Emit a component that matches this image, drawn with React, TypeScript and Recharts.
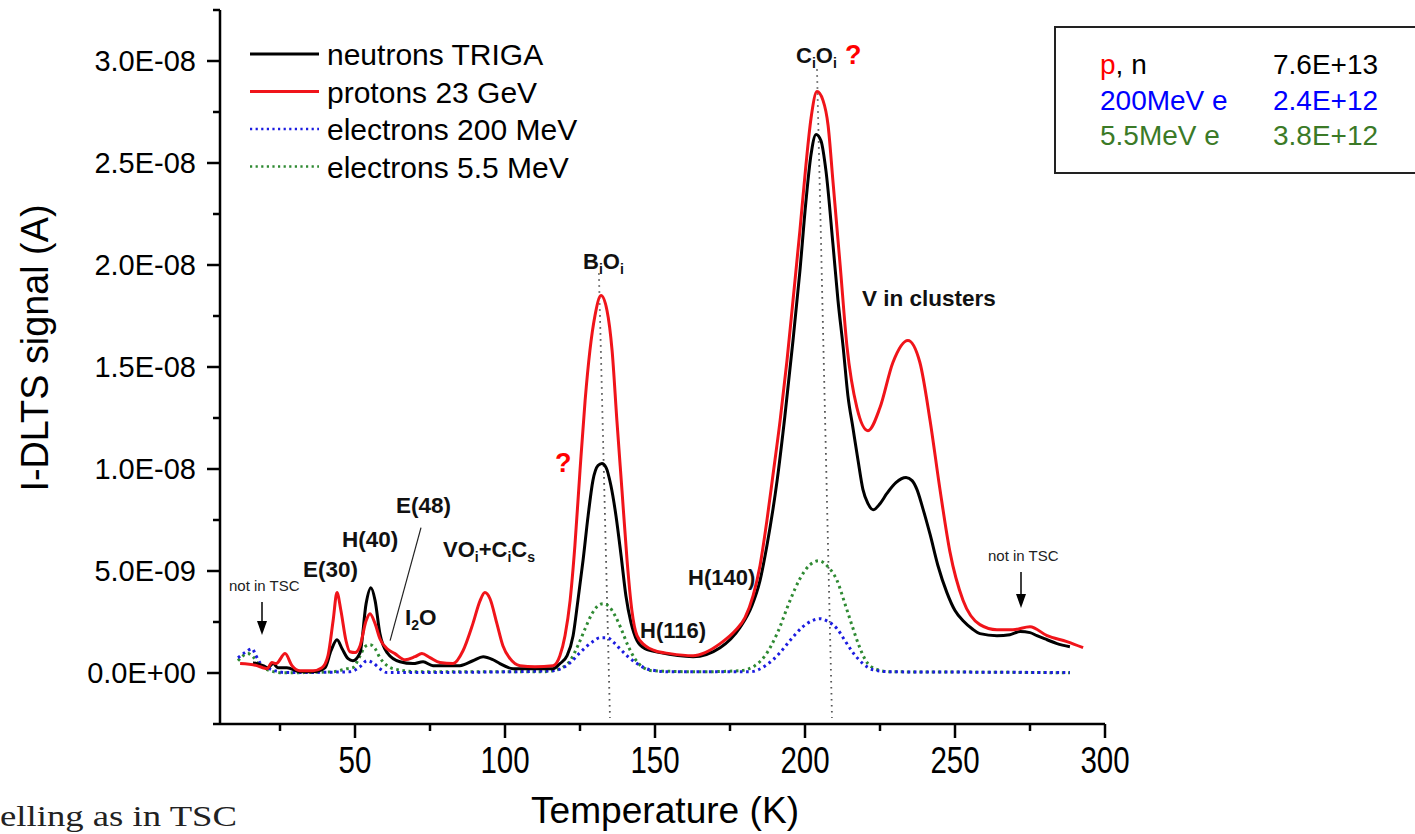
import React from 'react';
import { LineChart, Line, XAxis, YAxis, ReferenceLine } from 'recharts';

// I-DLTS spectra: temperature (K) and signal in nA for each irradiation
const neutronT = [16, 19.3, 21, 22.7, 24.3, 27.3, 31.7, 36, 40, 42, 44, 45.7, 47.7, 49.3, 51.7, 53.7, 55.3, 56.7, 58.3, 60.7, 65, 69.3, 72.7, 76, 85, 89.3, 92.7, 96, 98.3, 102.7, 116, 118.3, 120.7, 122.7, 124.3, 126, 127.7, 129.3, 131, 132.3, 133.7, 135.3, 137, 138.7, 140.3, 142, 144, 146.7, 151.7, 162.7, 171.7, 178.3, 182.3, 185, 187.3, 190.7, 193.3, 196, 198.3, 200.3, 202, 203.7, 205.3, 207, 209.3, 211, 212.7, 214.3, 216, 217.7, 219.3, 221, 222.7, 225, 227.3, 230.3, 233.7, 235.7, 237.3, 239.3, 241.7, 244.3, 247.3, 250, 252.7, 255.7, 258.3, 264, 268.3, 271.7, 275, 277.3, 280.7, 284, 288.3];
const neutronI = [0.51, 0.36, 0.26, 0.46, 0.26, 0.26, 0.06, 0.06, 0.26, 1.09, 1.63, 1.19, 0.7, 0.6, 1.0, 3.4, 4.18, 3.55, 1.93, 1.0, 0.55, 0.46, 0.55, 0.36, 0.36, 0.6, 0.8, 0.65, 0.46, 0.21, 0.21, 0.46, 0.85, 1.83, 3.55, 5.5, 7.7, 9.43, 10.17, 10.27, 10.07, 9.19, 7.7, 5.75, 3.79, 2.47, 1.59, 1.19, 1.0, 0.8, 1.24, 2.22, 3.3, 4.53, 6.24, 9.43, 12.6, 16.3, 19.7, 23.1, 25.4, 26.4, 26.1, 24.6, 21.05, 18.26, 16.0, 13.6, 12.0, 10.4, 9.0, 8.3, 8.0, 8.3, 8.8, 9.33, 9.58, 9.43, 9.0, 8.06, 6.79, 5.27, 3.94, 3.06, 2.56, 2.17, 1.93, 1.83, 1.88, 2.03, 1.98, 1.83, 1.63, 1.44, 1.29];

const protonT = [11.7, 17.3, 19.3, 20.7, 22.3, 23.7, 26.7, 29, 31.7, 36, 39, 41, 42.7, 44, 45.3, 47, 48.3, 50, 51.7, 53.7, 55, 56.7, 58.3, 60.7, 63.3, 66.7, 70, 72.3, 75, 78.3, 82.7, 86, 89.3, 91.7, 93.3, 95, 97.3, 99.3, 101.7, 105, 110, 116, 118.3, 120, 121.7, 123.3, 125, 126.7, 128.3, 130, 132, 134, 135.7, 137.3, 139, 140.7, 142.3, 144, 146.7, 150, 155, 162.7, 166.7, 171.7, 176.7, 180, 182.7, 185, 187.3, 189.3, 191.7, 194, 196, 198.3, 200.3, 202, 204, 206, 207.7, 209.3, 211.7, 214, 217.3, 221, 225, 229.3, 234.3, 238.3, 241.7, 245, 248.3, 252.7, 258.3, 264, 269.3, 275, 280.7, 287.3, 292.7];
const protonI = [0.46, 0.36, 0.26, 0.21, 0.51, 0.46, 0.95, 0.36, 0.11, 0.11, 0.26, 0.85, 2.56, 3.94, 3.06, 1.58, 1.04, 1.0, 1.34, 2.56, 2.91, 2.42, 1.68, 1.19, 0.95, 0.65, 0.8, 0.95, 0.75, 0.51, 0.46, 1.09, 2.42, 3.55, 3.94, 3.64, 2.42, 1.34, 0.7, 0.36, 0.31, 0.36, 0.85, 1.83, 3.55, 6.24, 9.92, 13.35, 15.8, 17.52, 18.5, 17.77, 15.8, 12.37, 8.94, 5.5, 3.06, 1.83, 1.34, 1.09, 0.95, 0.85, 1.0, 1.44, 2.07, 2.71, 3.79, 5.26, 7.47, 9.68, 12.37, 15.32, 18.26, 21.69, 24.88, 27.18, 28.5, 28.07, 26.84, 24.14, 20.02, 16.0, 13.01, 11.88, 13.01, 15.22, 16.3, 15.22, 12.37, 8.99, 5.95, 3.55, 2.37, 2.12, 2.12, 2.27, 1.83, 1.54, 1.24];

const e200T = [11, 13.3, 15.7, 17, 18.3, 20.7, 27.3, 48.3, 51.7, 54, 56, 58.3, 60.7, 90, 116, 121.7, 125, 129.3, 131.7, 134, 136.3, 138.3, 141, 144, 148.3, 155, 181.7, 187.3, 191.7, 195, 199.3, 202.3, 205, 207.7, 210.7, 213.3, 216, 219, 222.7, 228.3, 260, 288.3];
const e200I = [0.75, 1.0, 1.19, 0.85, 0.51, 0.26, 0.02, 0.06, 0.31, 0.6, 0.5, 0.21, 0.02, 0.04, 0.11, 0.5, 1.0, 1.54, 1.73, 1.73, 1.49, 1.19, 0.8, 0.46, 0.16, 0.06, 0.06, 0.41, 1.0, 1.59, 2.27, 2.56, 2.66, 2.52, 2.17, 1.59, 1.0, 0.5, 0.16, 0.06, 0.04, 0.02];

const e55T = [11, 14.3, 16, 17.7, 20, 26, 42.7, 47.3, 49.3, 51.7, 53.3, 55, 56.7, 58.3, 60.7, 62.7, 71.7, 111.7, 116, 118.3, 121.7, 124.3, 126.7, 129, 131, 132.7, 134.7, 136.7, 138.7, 141, 143.3, 145.7, 149.3, 165, 178.3, 183.3, 186.7, 190.7, 195, 198.3, 201.7, 204.7, 207.7, 210.7, 213.3, 215.7, 218, 220.3, 223.3, 228.3, 260, 288.3];
const e55I = [0.6, 0.95, 0.8, 0.46, 0.21, 0.01, 0.06, 0.21, 0.26, 0.85, 1.29, 1.39, 1.19, 0.75, 0.36, 0.21, 0.06, 0.06, 0.11, 0.21, 0.6, 1.34, 2.17, 2.91, 3.3, 3.4, 3.25, 2.81, 2.17, 1.34, 0.7, 0.31, 0.11, 0.06, 0.11, 0.36, 0.85, 1.93, 3.55, 4.62, 5.31, 5.5, 5.2, 4.53, 3.4, 2.32, 1.34, 0.6, 0.21, 0.06, 0.04, 0.01];

// Axis ticks (temperature in K, signal in nA)
const xTicks = [25, 50, 75, 100, 125, 150, 175, 200, 225, 250, 275, 300];
const xMajor = [50, 100, 150, 200, 250, 300];
const yTicks = [-2.5, 0, 2.5, 5, 7.5, 10, 12.5, 15, 17.5, 20, 22.5, 25, 27.5, 30, 32.5];
const yMajor = [0, 5, 10, 15, 20, 25, 30];

// Peak markers: [T top, I top, T bottom, I bottom]
const biOiMarker = [131.3, 19.6, 135, -2.2];
const ciOiMarker = [204, 29.6, 209, -2.2];
const e48Leader = [72, 7.13, 61.7, 1.59];

// Fluence table
const fluenceLabels = ['p, n', '200MeV e', '5.5MeV e'];
const fluenceValues = ['7.6E+13', '2.4E+12', '3.8E+12'];

const RED = '#f0141a';
const BLUE = '#1c1ce0';
const GREEN = '#2f8a33';
const GREEN_TEXT = '#3b7a27';

const toRows = (t: number[], v: number[]) => t.map((T, i) => ({ T, I: v[i] }));

const series = [
  { name: 'electrons 5.5 MeV', data: toRows(e55T, e55I), color: GREEN, dash: '2.6 3.6', width: 3 },
  { name: 'electrons 200 MeV', data: toRows(e200T, e200I), color: BLUE, dash: '2.6 3.6', width: 3 },
  { name: 'neutrons TRIGA', data: toRows(neutronT, neutronI), color: '#000', dash: undefined, width: 3 },
  { name: 'protons 23 GeV', data: toRows(protonT, protonI), color: RED, dash: undefined, width: 3 },
];
const legendOrder = ['neutrons TRIGA', 'protons 23 GeV', 'electrons 200 MeV', 'electrons 5.5 MeV'];

const SANS = 'Liberation Sans, Arial, sans-serif';

const fmtAmp = (nA: number) => {
  if (nA === 0) return '0.0E+00';
  const a = nA * 1e-9;
  const e = Math.floor(Math.log10(Math.abs(a)) + 1e-9);
  const m = a / Math.pow(10, e);
  return `${m.toFixed(1)}E${e < 0 ? '-' : '+'}${String(Math.abs(e)).padStart(2, '0')}`;
};

const YTick = (props: any) => {
  const { x, y, payload } = props;
  const major = yMajor.includes(payload.value);
  return (
    <g>
      <line x1={x - (major ? 13 : 7)} x2={x} y1={y} y2={y} stroke="#000" strokeWidth={2.5} />
      {major && (
        <text x={x - 24} y={y + 10} textAnchor="end" fontSize={29} fontFamily={SANS} fill="#000">
          {fmtAmp(payload.value)}
        </text>
      )}
    </g>
  );
};

const XTick = (props: any) => {
  const { x, y, payload } = props;
  const major = xMajor.includes(payload.value);
  const label = String(payload.value);
  return (
    <g>
      <line x1={x} x2={x} y1={y} y2={y + (major ? 14 : 7)} stroke="#000" strokeWidth={2.5} />
      {major && (
        <text x={x} y={y + 49} textAnchor="middle" fontSize={36} fontFamily={SANS} fill="#000"
          textLength={label.length * 0.456 * 36} lengthAdjust="spacingAndGlyphs">
          {label}
        </text>
      )}
    </g>
  );
};

const bold = { fontFamily: SANS, fontWeight: 700, fill: '#111' } as const;

export default function App() {
  return (
    <div style={{ position: 'absolute', left: 0, top: 0, width: 1415, height: 834, overflow: 'hidden', background: '#fff' }}>
      <LineChart width={1415} height={834} margin={{ top: 10, right: 310, bottom: 0, left: 0 }}>
        <XAxis dataKey="T" type="number" domain={[5, 300]} ticks={xTicks} allowDataOverflow
          height={110} tickLine={false} tickSize={0} tickMargin={0} interval={0}
          axisLine={{ stroke: '#000', strokeWidth: 2.5 }} tick={<XTick />} />
        <YAxis type="number" domain={[-2.5, 32.5]} ticks={yTicks} allowDataOverflow
          width={220} tickLine={false} tickSize={0} tickMargin={0} interval={0}
          axisLine={{ stroke: '#000', strokeWidth: 2.5 }} tick={<YTick />} />
        <ReferenceLine segment={[{ x: biOiMarker[0], y: biOiMarker[1] }, { x: biOiMarker[2], y: biOiMarker[3] }]}
          stroke="#555" strokeWidth={1.8} strokeDasharray="1.6 4.4" ifOverflow="visible" />
        <ReferenceLine segment={[{ x: ciOiMarker[0], y: ciOiMarker[1] }, { x: ciOiMarker[2], y: ciOiMarker[3] }]}
          stroke="#555" strokeWidth={1.8} strokeDasharray="1.6 4.4" ifOverflow="visible" />
        <ReferenceLine segment={[{ x: e48Leader[0], y: e48Leader[1] }, { x: e48Leader[2], y: e48Leader[3] }]}
          stroke="#222" strokeWidth={1.2} ifOverflow="visible" />
        {series.map((s) => (
          <Line key={s.name} data={s.data} dataKey="I" name={s.name} type="monotone" stroke={s.color}
            strokeWidth={s.width} strokeDasharray={s.dash} dot={false} activeDot={false} isAnimationActive={false} />
        ))}
      </LineChart>

      <svg width={1415} height={834} style={{ position: 'absolute', left: 0, top: 0, pointerEvents: 'none' }}>
        {/* axis titles */}
        <text transform="translate(48,348) rotate(-90)" textAnchor="middle" fontSize={38} fontFamily={SANS}
          textLength={287} lengthAdjust="spacingAndGlyphs" fill="#000">I-DLTS signal (A)</text>
        <text x={665} y={823} textAnchor="middle" fontSize={37} fontFamily={SANS}
          textLength={268} lengthAdjust="spacingAndGlyphs" fill="#000">Temperature (K)</text>

        {/* legend */}
        {legendOrder.map((name, i) => {
          const s = series.find((q) => q.name === name)!;
          const cy = 54 + i * 37.5;
          return (
            <g key={name}>
              <line x1={250} x2={319} y1={cy} y2={cy} stroke={s.color} strokeWidth={s.dash ? 2.6 : 3}
                strokeDasharray={s.dash ? '2.2 3.4' : undefined} />
              <text x={327} y={cy + 11} fontSize={30} fontFamily={SANS} fill="#000">{name}</text>
            </g>
          );
        })}

        {/* fluence table */}
        <rect x={1055} y={27} width={380} height={146} fill="#fff" stroke="#222" strokeWidth={2} />
        {fluenceLabels.map((lab, i) => {
          const y = 74 + i * 35.5;
          const col = i === 0 ? '#000' : i === 1 ? '#0000ff' : GREEN_TEXT;
          return (
            <g key={lab} fontSize={28} fontFamily={SANS}>
              <text x={1100} y={y} fill={col}>
                {i === 0 ? (<><tspan fill="#ff0000">p</tspan><tspan>, n</tspan></>) : lab}
              </text>
              <text x={1273} y={y} fill={col}>{fluenceValues[i]}</text>
            </g>
          );
        })}

        {/* peak labels */}
        <text x={583} y={269} fontSize={22} {...bold}>B<tspan fontSize={14} dy={5}>i</tspan><tspan dy={-5}>O</tspan><tspan fontSize={14} dy={5}>i</tspan></text>
        <text x={796} y={63} fontSize={22} {...bold}>C<tspan fontSize={14} dy={5}>i</tspan><tspan dy={-5}>O</tspan><tspan fontSize={14} dy={5}>i</tspan></text>
        <text x={845} y={64} fontSize={27} fontFamily={SANS} fontWeight={700} fill="#ff0000">?</text>
        <text x={555} y={472} fontSize={27} fontFamily={SANS} fontWeight={700} fill="#ff0000">?</text>
        <text x={862} y={306} fontSize={22.5} {...bold}>V in clusters</text>
        <text x={688} y={585} fontSize={22} {...bold}>H(140)</text>
        <text x={640} y={638} fontSize={22} {...bold}>H(116)</text>
        <text x={303} y={577} fontSize={22.5} {...bold}>E(30)</text>
        <text x={342} y={547} fontSize={22.5} {...bold}>H(40)</text>
        <text x={396} y={513} fontSize={22.5} {...bold}>E(48)</text>
        <text x={405} y={625} fontSize={22.5} {...bold}>I<tspan fontSize={14} dy={5}>2</tspan><tspan dy={-5}>O</tspan></text>
        <text x={443} y={557} fontSize={22} {...bold}>VO<tspan fontSize={14} dy={5}>i</tspan><tspan dy={-5}>+C</tspan><tspan fontSize={14} dy={5}>i</tspan><tspan dy={-5}>C</tspan><tspan fontSize={14} dy={5}>s</tspan></text>

        {/* not in TSC notes */}
        <text x={229} y={591} fontSize={15} fontFamily={SANS} fill="#222">not in TSC</text>
        <line x1={262} x2={262} y1={602} y2={624} stroke="#000" strokeWidth={1.5} />
        <polygon points="257,621 267,621 262,635" fill="#000" />
        <text x={988} y={561} fontSize={15} fontFamily={SANS} fill="#222">not in TSC</text>
        <line x1={1021} x2={1021} y1={572} y2={596} stroke="#000" strokeWidth={1.5} />
        <polygon points="1016,594 1026,594 1021,608" fill="#000" />

        <text x={0} y={826} fontSize={30} fontFamily="Liberation Serif, serif" fill="#222"
          textLength={237} lengthAdjust="spacingAndGlyphs">elling as in TSC</text>
      </svg>
    </div>
  );
}
